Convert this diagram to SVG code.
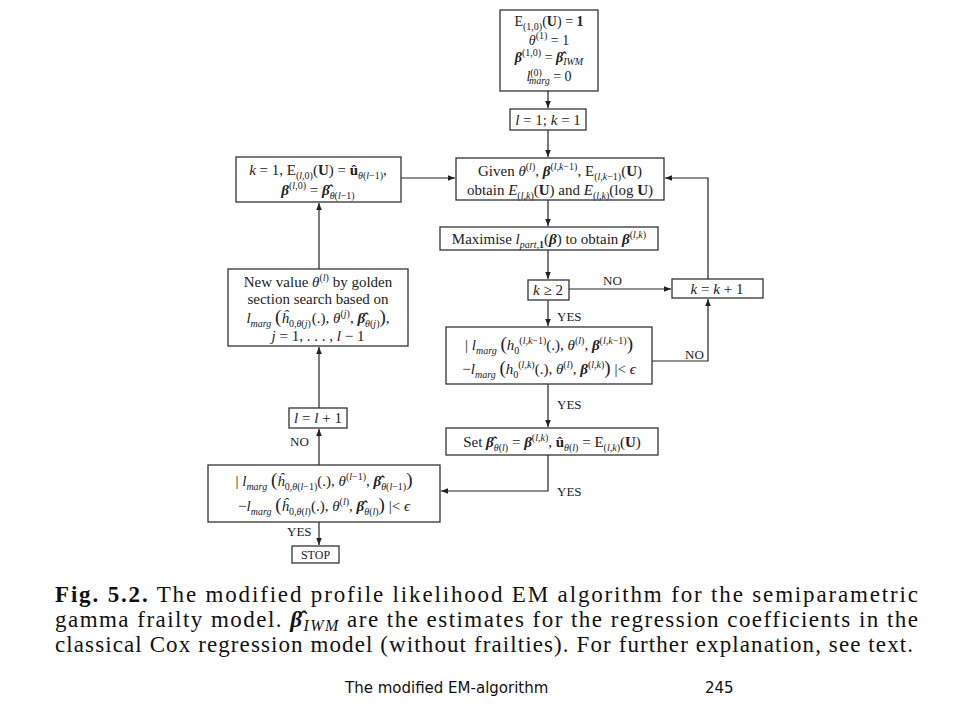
<svg xmlns="http://www.w3.org/2000/svg" width="960" height="720" viewBox="0 0 960 720">
<style>
.box{fill:#fff;stroke:#333;stroke-width:1.3}
.t{font-family:"Liberation Serif","DejaVu Serif",serif;font-size:15px;fill:#222;text-anchor:middle}
.t14{font-size:14px}
.i{font-style:italic}
.b{font-weight:bold}
.s{font-size:10px}
.p{font-size:19px}
.lbl{font-family:"Liberation Serif","DejaVu Serif",serif;font-size:13px;fill:#222}
.conn{stroke:#222;stroke-width:1.2;fill:none}
.cap{font-family:"Liberation Serif",serif;font-size:23px;fill:#111}
.foot{font-family:"DejaVu Sans",sans-serif;font-size:15px;fill:#111}
</style>
<defs>
<marker id="ah" markerWidth="8" markerHeight="8" refX="7" refY="4" orient="auto" markerUnits="userSpaceOnUse">
<path d="M0,1.2 L7,4 L0,6.8 Z" fill="#222"/>
</marker>
</defs>
<rect width="960" height="720" fill="#fff"/>

<g id="connectors">
<path class="conn" d="M548,91 V108" marker-end="url(#ah)"/>
<path class="conn" d="M548,130 V157" marker-end="url(#ah)"/>
<path class="conn" d="M401,178 H455" marker-end="url(#ah)"/>
<path class="conn" d="M708,279 V178 H665" marker-end="url(#ah)"/>
<path class="conn" d="M548,200 V226" marker-end="url(#ah)"/>
<path class="conn" d="M548,250 V279" marker-end="url(#ah)"/>
<path class="conn" d="M569,289 H671" marker-end="url(#ah)"/>
<path class="conn" d="M548,300 V326" marker-end="url(#ah)"/>
<path class="conn" d="M652,361 H708 V299" marker-end="url(#ah)"/>
<path class="conn" d="M548,384 V427" marker-end="url(#ah)"/>
<path class="conn" d="M548,455 V491 H441" marker-end="url(#ah)"/>
<path class="conn" d="M319,465 V429" marker-end="url(#ah)"/>
<path class="conn" d="M319,408 V347" marker-end="url(#ah)"/>
<path class="conn" d="M319,269 V203" marker-end="url(#ah)"/>
<path class="conn" d="M319,522 V545" marker-end="url(#ah)"/>
<text class="lbl" x="603" y="285">NO</text>
<text class="lbl" x="685" y="359">NO</text>
<text class="lbl" x="557" y="321">YES</text>
<text class="lbl" x="557" y="409">YES</text>
<text class="lbl" x="557" y="496">YES</text>
<text class="lbl" x="290" y="446">NO</text>
<text class="lbl" x="287" y="536">YES</text>
</g>

<g id="init">
<rect class="box" x="500" y="10" width="98" height="81"/>
<text class="t t14" x="549" y="26">E<tspan class="s" dy="4">(1,0)</tspan><tspan dy="-4">(</tspan><tspan class="b">U</tspan>) = <tspan class="b">1</tspan></text>
<text class="t t14" x="549" y="45"><tspan class="i">θ</tspan><tspan class="s" dy="-6">(1)</tspan><tspan dy="6"> = 1</tspan></text>
<text class="t t14" x="549" y="62"><tspan class="i b">β</tspan><tspan class="s" dy="-6">(1,0)</tspan><tspan dy="6"> = </tspan><tspan class="i b">β̂</tspan><tspan class="s i" dy="3">IWM</tspan></text>
<text class="t t14" x="549" y="81"><tspan class="i">l</tspan><tspan class="s" dy="-5">(0)</tspan><tspan class="s i" dx="-13" dy="8">marg</tspan><tspan dy="-3"> = 0</tspan></text>
</g>

<g id="start">
<rect class="box" x="510" y="109" width="76" height="21"/>
<text class="t" x="548" y="125"><tspan class="i">l</tspan> = 1; <tspan class="i">k</tspan> = 1</text>
</g>

<g id="given">
<rect class="box" x="456" y="158" width="208" height="42"/>
<text class="t" x="560" y="176">Given <tspan class="i">θ</tspan><tspan class="s" dy="-6">(<tspan class="i">l</tspan>)</tspan><tspan dy="6">, </tspan><tspan class="i b">β</tspan><tspan class="s" dy="-6">(<tspan class="i">l,k</tspan>−1)</tspan><tspan dy="6">, E</tspan><tspan class="s" dy="4">(<tspan class="i">l,k</tspan>−1)</tspan><tspan dy="-4">(</tspan><tspan class="b">U</tspan>)</text>
<text class="t" x="560" y="195">obtain <tspan class="i">E</tspan><tspan class="s" dy="4">(<tspan class="i">l,k</tspan>)</tspan><tspan dy="-4">(</tspan><tspan class="b">U</tspan>) and <tspan class="i">E</tspan><tspan class="s" dy="4">(<tspan class="i">l,k</tspan>)</tspan><tspan dy="-4">(log </tspan><tspan class="b">U</tspan>)</text>
</g>

<g id="reset">
<rect class="box" x="236" y="157" width="165" height="45"/>
<text class="t" x="318" y="175"><tspan class="i">k</tspan> = 1, E<tspan class="s" dy="4">(<tspan class="i">l</tspan>,0)</tspan><tspan dy="-4">(</tspan><tspan class="b">U</tspan>) = <tspan class="b">û</tspan><tspan class="s" dy="4"><tspan class="i">θ</tspan>(<tspan class="i">l</tspan>−1)</tspan><tspan dy="-4">,</tspan></text>
<text class="t" x="318" y="195"><tspan class="i b">β</tspan><tspan class="s" dy="-6">(<tspan class="i">l</tspan>,0)</tspan><tspan dy="6"> = </tspan><tspan class="i b">β̂</tspan><tspan class="s" dy="4"><tspan class="i">θ</tspan>(<tspan class="i">l</tspan>−1)</tspan></text>
</g>

<g id="maximise">
<rect class="box" x="440" y="227" width="218" height="23"/>
<text class="t" x="549" y="244">Maximise <tspan class="i">l</tspan><tspan class="s" dy="4"><tspan class="i">part</tspan>,<tspan class="b">1</tspan></tspan><tspan dy="-4">(</tspan><tspan class="i b">β</tspan>) to obtain <tspan class="i b">β</tspan><tspan class="s" dy="-6">(<tspan class="i">l,k</tspan>)</tspan></text>
</g>

<g id="kcheck">
<rect class="box" x="528" y="280" width="41" height="20"/>
<text class="t" x="548" y="295"><tspan class="i">k</tspan> ≥ 2</text>
</g>

<g id="kinc">
<rect class="box" x="672" y="279" width="91" height="19"/>
<text class="t" x="717" y="294"><tspan class="i">k</tspan> = <tspan class="i">k</tspan> + 1</text>
</g>

<g id="inner-conv">
<rect class="box" x="446" y="327" width="206" height="57"/>
<text class="t" x="549" y="350">| <tspan class="i">l</tspan><tspan class="s i" dy="4">marg</tspan><tspan dy="-4"> </tspan><tspan class="p">(</tspan><tspan class="i">h</tspan><tspan class="s" dy="4">0</tspan><tspan class="s" dy="-10">(<tspan class="i">l,k</tspan>−1)</tspan><tspan dy="6">(.), </tspan><tspan class="i">θ</tspan><tspan class="s" dy="-6">(<tspan class="i">l</tspan>)</tspan><tspan dy="6">, </tspan><tspan class="i b">β</tspan><tspan class="s" dy="-6">(<tspan class="i">l,k</tspan>−1)</tspan><tspan class="p" dy="6">)</tspan></text>
<text class="t" x="549" y="374">−<tspan class="i">l</tspan><tspan class="s i" dy="4">marg</tspan><tspan dy="-4"> </tspan><tspan class="p">(</tspan><tspan class="i">h</tspan><tspan class="s" dy="4">0</tspan><tspan class="s" dy="-10">(<tspan class="i">l,k</tspan>)</tspan><tspan dy="6">(.), </tspan><tspan class="i">θ</tspan><tspan class="s" dy="-6">(<tspan class="i">l</tspan>)</tspan><tspan dy="6">, </tspan><tspan class="i b">β</tspan><tspan class="s" dy="-6">(<tspan class="i">l,k</tspan>)</tspan><tspan class="p" dy="6">)</tspan> |&lt; <tspan class="i">ϵ</tspan></text>
</g>

<g id="set">
<rect class="box" x="446" y="428" width="212" height="27"/>
<text class="t" x="552" y="447">Set <tspan class="i b">β̂</tspan><tspan class="s" dy="4"><tspan class="i">θ</tspan>(<tspan class="i">l</tspan>)</tspan><tspan dy="-4"> = </tspan><tspan class="i b">β</tspan><tspan class="s" dy="-6">(<tspan class="i">l,k</tspan>)</tspan><tspan dy="6">, </tspan><tspan class="b">û</tspan><tspan class="s" dy="4"><tspan class="i">θ</tspan>(<tspan class="i">l</tspan>)</tspan><tspan dy="-4"> = E</tspan><tspan class="s" dy="4">(<tspan class="i">l,k</tspan>)</tspan><tspan dy="-4">(</tspan><tspan class="b">U</tspan>)</text>
</g>

<g id="outer-conv">
<rect class="box" x="208" y="465" width="232" height="57"/>
<text class="t" x="324" y="486">| <tspan class="i">l</tspan><tspan class="s i" dy="4">marg</tspan><tspan dy="-4"> </tspan><tspan class="p">(</tspan><tspan class="i">ĥ</tspan><tspan class="s" dy="4">0,<tspan class="i">θ</tspan>(<tspan class="i">l</tspan>−1)</tspan><tspan dy="-4">(.), </tspan><tspan class="i">θ</tspan><tspan class="s" dy="-6">(<tspan class="i">l</tspan>−1)</tspan><tspan dy="6">, </tspan><tspan class="i b">β̂</tspan><tspan class="s" dy="4"><tspan class="i">θ</tspan>(<tspan class="i">l</tspan>−1)</tspan><tspan class="p" dy="-4">)</tspan></text>
<text class="t" x="324" y="511">−<tspan class="i">l</tspan><tspan class="s i" dy="4">marg</tspan><tspan dy="-4"> </tspan><tspan class="p">(</tspan><tspan class="i">ĥ</tspan><tspan class="s" dy="4">0,<tspan class="i">θ</tspan>(<tspan class="i">l</tspan>)</tspan><tspan dy="-4">(.), </tspan><tspan class="i">θ</tspan><tspan class="s" dy="-6">(<tspan class="i">l</tspan>)</tspan><tspan dy="6">, </tspan><tspan class="i b">β̂</tspan><tspan class="s" dy="4"><tspan class="i">θ</tspan>(<tspan class="i">l</tspan>)</tspan><tspan class="p" dy="-4">)</tspan> |&lt; <tspan class="i">ϵ</tspan></text>
</g>

<g id="linc">
<rect class="box" x="289" y="408" width="58" height="20"/>
<text class="t" x="318" y="423"><tspan class="i">l</tspan> = <tspan class="i">l</tspan> + 1</text>
</g>

<g id="golden">
<rect class="box" x="228" y="269" width="180" height="77"/>
<text class="t" x="318" y="287">New value <tspan class="i">θ</tspan><tspan class="s" dy="-6">(<tspan class="i">l</tspan>)</tspan><tspan dy="6"> by golden</tspan></text>
<text class="t" x="318" y="304">section search based on</text>
<text class="t" x="318" y="323"><tspan class="i">l</tspan><tspan class="s i" dy="4">marg</tspan><tspan dy="-4"> </tspan><tspan class="p">(</tspan><tspan class="i">ĥ</tspan><tspan class="s" dy="4">0,<tspan class="i">θ</tspan>(<tspan class="i">j</tspan>)</tspan><tspan dy="-4" dx="1">(.), </tspan><tspan class="i">θ</tspan><tspan class="s" dy="-6">(<tspan class="i">j</tspan>)</tspan><tspan dy="6">, </tspan><tspan class="i b">β̂</tspan><tspan class="s" dy="4"><tspan class="i">θ</tspan>(<tspan class="i">j</tspan>)</tspan><tspan class="p" dy="-4">)</tspan>,</text>
<text class="t" x="318" y="341"><tspan class="i">j</tspan> = 1, . . . , <tspan class="i">l</tspan> − 1</text>
</g>

<g id="stop">
<rect class="box" x="292" y="546" width="47" height="17"/>
<text class="t" x="315.5" y="559" style="font-size:12px">STOP</text>
</g>

<g id="caption">
<text class="cap" x="55" y="602" textLength="863" lengthAdjust="spacing"><tspan font-weight="bold">Fig. 5.2.</tspan> The modified profile likelihood EM algorithm for the semiparametric</text>
<text class="cap" x="55" y="627" textLength="863" lengthAdjust="spacing">gamma frailty model. <tspan font-style="italic" font-weight="bold">β̂</tspan><tspan font-style="italic" font-size="16" dy="4">IWM</tspan><tspan dy="-4"> are the estimates for the regression coefficients in the</tspan></text>
<text class="cap" x="55" y="652" textLength="858" lengthAdjust="spacing">classical Cox regression model (without frailties). For further explanation, see text.</text>
</g>

<g id="footer">
<text class="foot" x="345" y="693">The modified EM-algorithm</text>
<text class="foot" x="705" y="693">245</text>
</g>
</svg>
